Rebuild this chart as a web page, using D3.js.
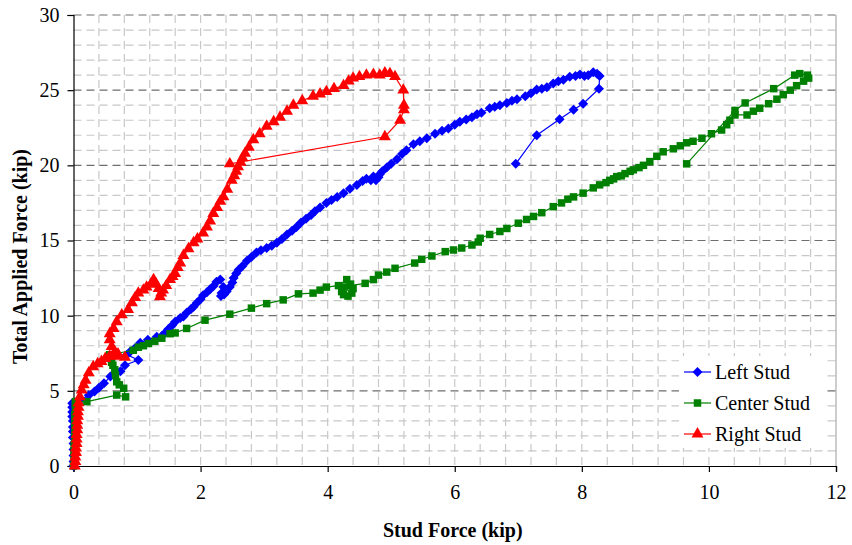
<!DOCTYPE html>
<html>
<head>
<meta charset="utf-8">
<script src="https://cdn.jsdelivr.net/npm/d3@7"></script>
<style>
  html, body { margin: 0; padding: 0; background: #fff; }
  svg { display: block; }
  svg text { font-family: "Liberation Serif", "Times New Roman", "DejaVu Serif", serif !important; fill: #000; }
</style>
</head>
<body>
<svg id="chart" width="852" height="545"></svg>
<script>
// Stud force (kip) vs. total applied force (kip), one [x, y] pair per reading
const leftStud = [
  [0,0],[0,0.3],[0,0.7],[0,1.1],[0,1.5],[-0.01,1.9],[-0.01,2.3],[-0.01,2.6],[-0.01,3.0],[-0.02,3.3],
  [-0.02,3.6],[-0.02,3.9],[-0.02,4.17],[0.11,4.4],[0.24,4.7],[0.33,4.95],[0.4,5.2],[0.48,5.5],[0.58,5.95],
  [0.65,6.15],[0.74,6.3],[0.81,6.7],[1.02,7.05],[0.84,7.4],[0.89,7.6],[0.97,7.85],[1.05,8.2],[1.17,8.4],
  [1.31,8.6],[1.39,8.65],[1.44,8.85],[1.49,9.1],[1.55,9.35],[1.6,9.6],[1.68,9.85],[1.73,9.95],[1.78,10.2],
  [1.85,10.45],[1.89,10.6],[1.94,10.85],[2.0,11.1],[2.04,11.35],[2.1,11.55],[2.15,11.75],[2.2,11.95],
  [2.25,12.25],[2.31,12.4],[2.36,11.9],[2.33,11.5],[2.32,11.3],[2.37,11.4],[2.41,11.6],[2.46,11.9],
  [2.5,12.2],[2.52,12.5],[2.56,12.8],[2.6,13.05],[2.66,13.3],[2.73,13.65],[2.8,13.9],[2.88,14.2],
  [2.95,14.35],[3.04,14.5],[3.12,14.65],[3.2,14.85],[3.28,15.1],[3.36,15.4],[3.44,15.65],[3.51,15.9],
  [3.58,16.2],[3.66,16.45],[3.74,16.7],[3.8,16.95],[3.88,17.2],[3.98,17.5],[4.06,17.7],[4.15,17.9],
  [4.25,18.15],[4.35,18.45],[4.46,18.7],[4.55,18.95],[4.61,19.1],[4.68,19.0],[4.72,19.25],[4.76,19.0],
  [4.8,19.2],[4.82,19.4],[4.86,19.6],[4.93,19.85],[5.0,20.1],[5.09,20.4],[5.17,20.75],[5.24,21.0],
  [5.35,21.4],[5.45,21.6],[5.56,21.8],[5.69,22.1],[5.8,22.3],[5.9,22.45],[6.0,22.7],[6.08,22.9],
  [6.18,23.05],[6.27,23.2],[6.35,23.4],[6.42,23.5],[6.55,23.8],[6.63,23.9],[6.71,24.0],[6.82,24.15],
  [6.9,24.3],[6.98,24.4],[7.11,24.6],[7.2,24.8],[7.29,25.05],[7.37,25.1],[7.45,25.2],[7.55,25.45],
  [7.63,25.6],[7.71,25.7],[7.81,25.9],[7.9,25.95],[7.97,26.05],[8.04,25.95],[8.1,26.0],[8.18,26.2],
  [8.24,26.1],[8.28,25.95],[8.27,25.1],[8.02,24.1],[7.87,23.7],[7.65,23.07],[7.29,22.0],[6.96,20.1]
];

const centerStud = [
  [0,0],[0.01,0.3],[0.01,0.7],[0.01,1.0],[0.01,1.4],[0.02,1.8],[0.02,2.2],[0.02,2.6],[0.02,3.0],
  [0.02,3.4],[0.03,3.8],[0.03,4.1],[0.03,4.28],[0.21,4.28],[0.68,4.72],[0.82,4.6],[0.79,5.17],
  [0.72,5.4],[0.68,5.6],[0.66,6.05],[0.65,6.4],[0.62,6.7],[0.6,6.9],[0.58,7.15],[0.57,7.4],
  [0.94,7.7],[1.02,7.9],[1.1,8.0],[1.18,8.15],[1.28,8.3],[1.39,8.5],[1.52,8.8],[1.6,8.85],[1.78,9.15],
  [2.07,9.7],[2.46,10.1],[2.8,10.5],[3.04,10.8],[3.3,11.05],[3.54,11.45],[3.77,11.5],[3.88,11.7],
  [3.98,11.9],[4.17,12.0],[4.3,12.4],[4.36,12.1],[4.4,11.8],[4.38,11.5],[4.32,11.3],[4.25,11.4],
  [4.22,11.6],[4.26,11.9],[4.35,12.0],[4.59,12.15],[4.72,12.4],[4.8,12.7],[4.93,12.9],[5.06,13.15],
  [5.37,13.5],[5.48,13.75],[5.64,13.97],[5.85,14.26],[5.98,14.37],[6.11,14.5],[6.27,14.7],[6.37,14.9],
  [6.4,15.15],[6.55,15.4],[6.71,15.6],[6.82,15.8],[7.0,16.15],[7.13,16.4],[7.24,16.6],[7.37,16.85],
  [7.55,17.25],[7.68,17.5],[7.78,17.75],[7.87,17.9],[8.02,18.15],[8.18,18.5],[8.28,18.7],[8.38,18.85],
  [8.44,19.0],[8.5,19.1],[8.55,19.25],[8.62,19.3],[8.68,19.45],[8.76,19.6],[8.81,19.7],[8.9,19.85],
  [8.97,20.0],[9.07,20.25],[9.18,20.6],[9.28,20.9],[9.44,21.1],[9.55,21.3],[9.65,21.5],[9.75,21.6],
  [9.89,21.8],[10.04,22.1],[10.2,22.35],[10.28,22.7],[10.33,23.0],[10.41,23.35],[10.6,23.35],
  [10.7,23.6],[10.8,23.8],[10.94,24.1],[11.07,24.4],[11.17,24.7],[11.28,25.0],[11.38,25.3],
  [11.49,25.6],[11.57,25.8],[11.55,26.0],[11.43,26.1],[11.35,26.0],[11.02,25.1],[10.57,24.15],
  [10.41,23.65],[9.65,20.1]
];

const rightStud = [
  [0.02,0],[0.03,0.3],[0.03,0.6],[0.04,0.9],[0.04,1.2],[0.05,1.5],[0.05,1.8],[0.05,2.1],[0.06,2.4],
  [0.06,2.7],[0.06,3.0],[0.07,3.3],[0.07,3.6],[0.08,3.9],[0.08,4.2],[0.1,4.6],[0.13,5.05],[0.16,5.4],
  [0.19,5.7],[0.24,6.2],[0.31,6.6],[0.38,6.8],[0.44,6.95],[0.5,7.15],[0.57,7.3],[0.68,7.3],[0.81,7.23],
  [0.7,7.45],[0.65,7.6],[0.6,7.95],[0.57,8.4],[0.57,8.8],[0.63,9.15],[0.68,9.6],[0.76,10.05],
  [0.86,10.4],[0.92,10.85],[0.97,11.2],[1.02,11.5],[1.1,11.7],[1.15,11.9],[1.22,12.1],[1.26,12.4],
  [1.3,12.1],[1.34,11.8],[1.36,11.25],[1.38,11.5],[1.41,11.7],[1.46,12.0],[1.52,12.4],[1.56,12.6],
  [1.6,12.8],[1.64,13.2],[1.68,13.5],[1.73,14.0],[1.81,14.45],[1.89,14.85],[1.95,15.1],[2.04,15.5],
  [2.1,15.9],[2.15,16.3],[2.2,16.8],[2.26,17.2],[2.31,17.6],[2.36,17.9],[2.42,18.4],[2.49,19.0],
  [2.53,19.3],[2.56,19.6],[2.59,19.9],[2.63,20.2],[2.66,20.5],[2.7,20.8],[2.76,21.2],[2.83,21.7],
  [2.93,22.1],[3.04,22.6],[3.15,22.9],[3.25,23.2],[3.36,23.6],[3.46,24.0],[3.6,24.3],[3.77,24.6],
  [3.88,24.75],[3.98,24.9],[4.1,25.1],[4.25,25.3],[4.33,25.6],[4.4,25.8],[4.5,25.9],[4.61,26.0],
  [4.72,26.05],[4.82,26.0],[4.9,26.15],[4.98,26.1],[5.06,25.9],[5.19,25.0],[5.2,24.0],[5.2,23.7],
  [5.14,23.0],[4.9,21.9],[2.46,20.1]
];

const seriesNames = ["Left Stud", "Center Stud", "Right Stud"];
const seriesColors = ["#0000ff", "#008000", "#ff0000"];
const seriesShapes = ["diamond", "square", "triangle"];
const xTicks = [0, 2, 4, 6, 8, 10, 12];
const yTicks = [0, 5, 10, 15, 20, 25, 30];
const xTitle = "Stud Force (kip)";
const yTitle = "Total Applied Force (kip)";

const svg = d3.select("#chart");
const plot = { left: 73.5, right: 836, top: 15, bottom: 466 };

const x = d3.scaleLinear().domain([0, 12]).range([plot.left, plot.right]);
const y = d3.scaleLinear().domain([0, 30]).range([plot.bottom, plot.top]);

// Grid: light minor lines, darker dashed major lines
const grid = svg.append("g");
const xMinor = d3.range(1, 30).map(i => i * 0.4);
grid.selectAll(".vminor").data(xMinor).join("line")
  .attr("x1", d => x(d)).attr("x2", d => x(d))
  .attr("y1", plot.top).attr("y2", plot.bottom)
  .attr("stroke", "#c8c8c8").attr("stroke-width", 1.2)
  .attr("stroke-dasharray", "8,5");
const yMinor = d3.range(1, 30).filter(v => v % 5 !== 0);
grid.selectAll(".hminor").data(yMinor).join("line")
  .attr("x1", plot.left).attr("x2", plot.right)
  .attr("y1", d => y(d)).attr("y2", d => y(d))
  .attr("stroke", "#c8c8c8").attr("stroke-width", 1.2)
  .attr("stroke-dasharray", "8,5");
grid.selectAll(".hmajor").data(yTicks.filter(v => v > 0)).join("line")
  .attr("x1", plot.left).attr("x2", plot.right)
  .attr("y1", d => y(d)).attr("y2", d => y(d))
  .attr("stroke", "#6e6e6e").attr("stroke-width", 1.2)
  .attr("stroke-dasharray", "8,5");
grid.append("line")
  .attr("x1", x(12)).attr("x2", x(12))
  .attr("y1", plot.top).attr("y2", plot.bottom)
  .attr("stroke", "#9a9a9a").attr("stroke-width", 1);

// Axes
const xAxis = d3.axisBottom(x).tickValues(xTicks).tickSize(6).tickPadding(13).tickFormat(d3.format("d"));
const yAxis = d3.axisLeft(y).tickValues(yTicks).tickSize(6).tickPadding(8).tickFormat(d3.format("d"));
const gx = svg.append("g").attr("transform", `translate(0,${plot.bottom})`).call(xAxis);
const gy = svg.append("g").attr("transform", `translate(${plot.left},0)`).call(yAxis);
[gx, gy].forEach(g => {
  g.attr("font-family", null).attr("font-size", null);
  g.select(".domain").attr("stroke", "#000").attr("stroke-width", 1.2);
  g.selectAll(".tick line").attr("stroke", "#000").attr("stroke-width", 1.2);
  g.selectAll(".tick text").attr("font-size", 20).attr("fill", "#000");
});

// Axis titles
svg.append("text")
  .attr("x", (plot.left + plot.right) / 2 - 2).attr("y", 537)
  .attr("text-anchor", "middle").attr("font-size", 20).attr("font-weight", "bold")
  .text(xTitle);
svg.append("text")
  .attr("transform", `translate(27,${(plot.top + plot.bottom) / 2 + 16}) rotate(-90)`)
  .attr("text-anchor", "middle").attr("font-size", 20).attr("font-weight", "bold")
  .text(yTitle);

// Marker shapes
const diamondType = {
  draw(ctx, size) {
    const r = Math.sqrt(size / 2);
    ctx.moveTo(0, -r); ctx.lineTo(r, 0); ctx.lineTo(0, r); ctx.lineTo(-r, 0); ctx.closePath();
  }
};
const shapeTypes = { diamond: diamondType, square: d3.symbolSquare, triangle: d3.symbolTriangle };
const shapeSizes = { diamond: 50, square: 56, triangle: 62 };

const allSeries = [leftStud, centerStud, rightStud];
const line = d3.line().x(d => x(d[0])).y(d => y(d[1]));

allSeries.forEach((data, i) => {
  const g = svg.append("g");
  g.append("path").datum(data)
    .attr("d", line).attr("fill", "none")
    .attr("stroke", seriesColors[i]).attr("stroke-width", 1.2);
  const sym = d3.symbol().type(shapeTypes[seriesShapes[i]]).size(shapeSizes[seriesShapes[i]]);
  g.selectAll("path.m").data(data).join("path")
    .attr("class", "m")
    .attr("transform", d => `translate(${x(d[0])},${y(d[1])})`)
    .attr("d", sym)
    .attr("fill", seriesColors[i]);
});

// Legend
const legend = svg.append("g");
legend.append("rect")
  .attr("x", 679).attr("y", 356).attr("width", 147).attr("height", 92)
  .attr("fill", "#fff");
seriesNames.forEach((name, i) => {
  const ly = 372 + i * 31;
  legend.append("line")
    .attr("x1", 684).attr("x2", 711).attr("y1", ly).attr("y2", ly)
    .attr("stroke", seriesColors[i]).attr("stroke-width", 1.2);
  legend.append("path")
    .attr("transform", `translate(697.5,${ly})`)
    .attr("d", d3.symbol().type(shapeTypes[seriesShapes[i]]).size(shapeSizes[seriesShapes[i]]))
    .attr("fill", seriesColors[i]);
  legend.append("text")
    .attr("x", 715).attr("y", ly + 7)
    .attr("font-size", 20)
    .text(name);
});
</script>
</body>
</html>
